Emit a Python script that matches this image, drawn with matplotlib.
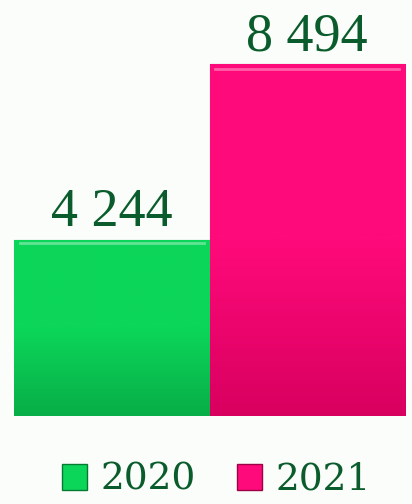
import numpy as np
import matplotlib
matplotlib.use("Agg")
import matplotlib.pyplot as plt
from matplotlib.patches import Patch
from matplotlib.colors import LinearSegmentedColormap

# Datos
anios = ["2020", "2021"]
valores = [4244, 8494]
etiquetas = ["4 244", "8 494"]

# Paleta
C_TOP = ["#0cd65a", "#ff0a7a"]
C_BOT = ["#08ae47", "#d8005f"]
C_EDGE = ["#067a33", "#9c0045"]
C_TEXTO = "#0b5c2c"
C_FONDO = "#fafdf9"

fig = plt.figure(figsize=(4.12, 5.04), dpi=100, facecolor=C_FONDO)
ax = fig.add_axes([14 / 412, 88 / 504, 391 / 412, 416 / 504])
ax.set_facecolor(C_FONDO)

x = np.arange(len(valores))
barras = ax.bar(x, valores, width=1.0, align="edge", color=C_TOP, edgecolor=C_EDGE, linewidth=0.8, zorder=2)

# degradado vertical dentro de cada barra
for b, ct, cb in zip(barras, C_TOP, C_BOT):
    cmap = LinearSegmentedColormap.from_list("g", [cb, ct, ct])
    grad = np.linspace(0, 1, 256).reshape(-1, 1)
    x0, y0 = b.get_x(), b.get_y()
    im = ax.imshow(grad, cmap=cmap, aspect="auto", origin="lower",
                   extent=[x0, x0 + b.get_width(), y0, y0 + b.get_height()], zorder=2.5)
    im.set_clip_path(b)
    # borde claro superior
    ax.plot([x0 + 0.03, x0 + b.get_width() - 0.03], [b.get_height() * 0.985] * 2,
            color="white", alpha=0.35, lw=2, zorder=3)

ax.set_xlim(0, len(valores))
ax.set_ylim(0, 10040)
ax.axis("off")

for b, txt in zip(barras, etiquetas):
    ax.annotate(txt, (b.get_x() + b.get_width() / 2, b.get_height()),
                xytext=(0, 10), textcoords="offset points", ha="center", va="baseline",
                fontsize=39, family="Liberation Serif", color=C_TEXTO)

handles = [Patch(facecolor=c, edgecolor=e, label=a) for c, e, a in zip(C_TOP, C_EDGE, anios)]
fig.legend(handles=handles, loc="center", bbox_to_anchor=(0.525, 24 / 504), ncol=2,
           frameon=False, handlelength=0.67, handleheight=0.67, handletextpad=0.35,
           columnspacing=1.1, prop={"family": "DejaVu Serif", "size": 27}, labelcolor=C_TEXTO)

fig.savefig("out.png", dpi=100, facecolor=C_FONDO)
